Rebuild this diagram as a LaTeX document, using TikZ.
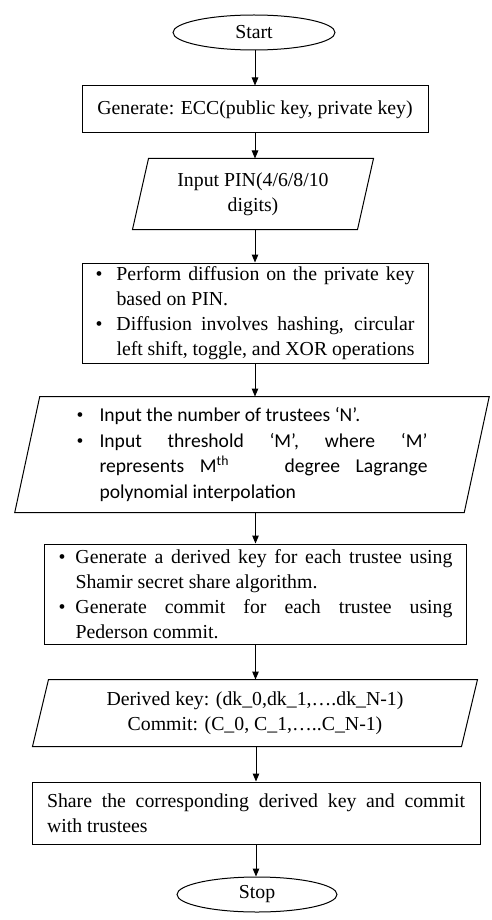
\documentclass[tikz,border=0pt]{standalone}
\usepackage{fontspec}
\setmainfont{Liberation Serif}
\newfontfamily\calibrifont{Carlito}
\usetikzlibrary{shapes.geometric,arrows.meta,calc}

% bullet paragraph: #1 = hanging indent, #2 = text
\newcommand{\bulitem}[2]{\par\noindent\hangindent=#1\hangafter=1\makebox[#1][l]{\rmfamily •}#2\par}

\begin{document}
\begin{tikzpicture}[x=1pt,y=-1pt,line width=1pt,
  txt/.style={font=\fontsize{19.8}{25}\selectfont},
  terminal/.style={ellipse, draw, inner sep=0pt, txt},
  procbox/.style={rectangle, draw, inner sep=0pt, txt},
  iobox/.style={rectangle, inner sep=0pt, txt},
  flow/.style={-{Triangle[length=8pt,width=6.5pt]}},
]
\path[use as bounding box] (0,0) rectangle (491,920);

% terminals and steps
\node[terminal, minimum width=162pt, minimum height=35pt] (start) at (254,32.5) {Start};

\node[procbox, minimum width=346pt, minimum height=47pt] (gen) at (255,109.5)
  {\raisebox{2.5pt}{Generate: ECC(public key, private key)}};

\node[iobox, minimum width=224pt, minimum height=70pt, align=center] (pin) at (253,194)
  {Input PIN(4/6/8/10\\digits)};
\draw ([xshift=8pt]pin.north west) -- ([xshift=8pt]pin.north east)
   -- ([xshift=-8pt]pin.south east) -- ([xshift=-8pt]pin.south west) -- cycle;

\node[procbox, minimum width=346pt, minimum height=100pt] (diff) at (255,313)
  {\parbox{319pt}{%
    \bulitem{21pt}{Perform diffusion on the private key\linebreak based on PIN.}%
    \bulitem{21pt}{Diffusion involves hashing, circular\linebreak left shift, toggle, and XOR operations}}};

\node[iobox, minimum width=448.5pt, minimum height=115pt,
      font=\calibrifont\fontsize{19.6}{25.6}\selectfont] (trust) at (252,454.5)
  {\parbox{351pt}{%
    \bulitem{23pt}{Input the number of trustees ‘N’.}%
    \bulitem{23pt}{Input threshold ‘M’, where ‘M’\linebreak represents M\textsuperscript{th}\hspace{40pt} degree Lagrange\linebreak polynomial interpolation}}};
\draw ([xshift=12.5pt]trust.north west) -- ([xshift=12.5pt]trust.north east)
   -- ([xshift=-12.5pt]trust.south east) -- ([xshift=-12.5pt]trust.south west) -- cycle;

\node[procbox, minimum width=422pt, minimum height=100pt] (shamir) at (255.5,594)
  {\parbox{394pt}{%
    \bulitem{17pt}{Generate a derived key for each trustee using\linebreak Shamir secret share algorithm.}%
    \bulitem{17pt}{Generate commit for each trustee using\linebreak Pederson commit.}}};

\node[iobox, minimum width=428pt, minimum height=66pt, align=center] (derived) at (255,713)
  {Derived key: (dk\_0,dk\_1,….dk\_N-1)\\Commit: (C\_0, C\_1,…..C\_N-1)};
\draw ([xshift=8pt]derived.north west) -- ([xshift=8pt]derived.north east)
   -- ([xshift=-8pt]derived.south east) -- ([xshift=-8pt]derived.south west) -- cycle;

\node[procbox, minimum width=448pt, minimum height=62pt] (share) at (256,813)
  {\parbox{418pt}{Share the corresponding derived key and commit\linebreak with trustees}};

\node[terminal, minimum width=160pt, minimum height=35pt] (stop) at (257,894.5) {Stop};

% connectors
\draw[flow] (gen.north |- start.south) -- (gen.north);
\draw[flow] (gen.south) -- (gen.south |- pin.north);
\draw[flow] (diff.north |- pin.south) -- (diff.north);
\draw[flow] (diff.south) -- (diff.south |- trust.north);
\draw[flow] (shamir.north |- trust.south) -- (shamir.north);
\draw[flow] (shamir.south) -- (shamir.south |- derived.north);
\draw[flow] (share.north |- derived.south) -- (share.north);
\draw[flow] (share.south) -- (share.south |- stop.north);
\end{tikzpicture}
\end{document}
